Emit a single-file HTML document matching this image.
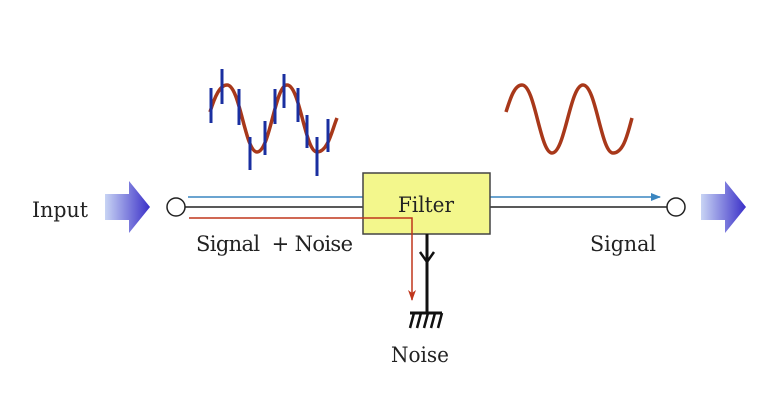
<!DOCTYPE html><html><head><style>body{margin:0;background:#fff}svg{display:block}</style></head><body>
<svg width="776" height="400" xmlns="http://www.w3.org/2000/svg">
<defs><linearGradient id="g" x1="0" x2="1"><stop offset="0" stop-color="#c8d4f4"/><stop offset="1" stop-color="#3a2fc8"/></linearGradient>
<marker id="ab" markerWidth="10" markerHeight="8" refX="9" refY="4" orient="auto" markerUnits="userSpaceOnUse"><path d="M0,0 L10,4 L0,8z" fill="#3a86c0"/></marker>
<marker id="ar" markerWidth="8" markerHeight="11" refX="4" refY="10" orient="0" markerUnits="userSpaceOnUse"><path d="M0,0 L4,11 L8,0 L4,3z" fill="#c0361c"/></marker></defs>
<path d="M105,194 h24 v-13 l21,26 l-21,26 v-13 h-24z" fill="url(#g)"/>
<path d="M701,194 h24 v-13 l21,26 l-21,26 v-13 h-24z" fill="url(#g)"/>
<line x1="188" y1="197" x2="363" y2="197" stroke="#3a86c0" stroke-width="1.5"/>
<line x1="490" y1="197" x2="660" y2="197" stroke="#3a86c0" stroke-width="1.5" marker-end="url(#ab)"/>
<line x1="185" y1="207" x2="667" y2="207" stroke="#222" stroke-width="1.5"/>
<circle cx="176" cy="207" r="9" fill="#fff" stroke="#222" stroke-width="1.5"/>
<circle cx="676" cy="207" r="9" fill="#fff" stroke="#222" stroke-width="1.5"/>
<rect x="363" y="173" width="127" height="61" fill="#f3f78c" stroke="#444" stroke-width="1.5"/>
<polyline points="189,218 412,218 412,300" fill="none" stroke="#c0361c" stroke-width="1.5" marker-end="url(#ar)"/>
<line x1="427" y1="234" x2="427" y2="313" stroke="#111" stroke-width="3"/>
<polyline points="420,252 427,262 434,252" fill="none" stroke="#111" stroke-width="2.5"/>
<line x1="410" y1="313" x2="442" y2="313" stroke="#111" stroke-width="3"/>
<g stroke="#111" stroke-width="2.5"><line x1="414" y1="313" x2="410" y2="328"/><line x1="421" y1="313" x2="417" y2="328"/><line x1="428" y1="313" x2="424" y2="328"/><line x1="435" y1="313" x2="431" y2="328"/><line x1="442" y1="313" x2="438" y2="328"/></g>
<g font-family="DejaVu Serif, serif" font-size="21" fill="#222">
<text x="32" y="217" textLength="56" lengthAdjust="spacingAndGlyphs">Input</text>
<text x="398" y="212" textLength="56" lengthAdjust="spacingAndGlyphs">Filter</text>
<text x="196" y="251" textLength="157" lengthAdjust="spacing" xml:space="preserve">Signal  + Noise</text>
<text x="590" y="251" textLength="66" lengthAdjust="spacingAndGlyphs">Signal</text>
<text x="391" y="362" textLength="58" lengthAdjust="spacingAndGlyphs">Noise</text></g>
<path d="M210,112 C215,96 220,85 227,85 C240,85 245,152 257,152 C270,152 275,85 287,85 C300,85 305,152 317,152 C328,152 332,130 337,118" fill="none" stroke="#a8381a" stroke-width="3.5"/>
<g stroke="#1a2fa0" stroke-width="3">
<line x1="211" y1="88" x2="211" y2="123"/><line x1="222" y1="69" x2="222" y2="104"/><line x1="239" y1="89" x2="239" y2="125"/><line x1="250" y1="137" x2="250" y2="170"/><line x1="265" y1="121" x2="265" y2="155"/><line x1="275" y1="89" x2="275" y2="124"/><line x1="284" y1="74" x2="284" y2="108"/><line x1="298" y1="88" x2="298" y2="122"/><line x1="307" y1="115" x2="307" y2="148"/><line x1="317" y1="137" x2="317" y2="176"/><line x1="328" y1="119" x2="328" y2="152"/></g>
<path d="M506,112 C511,96 515,85 522,85 C535,85 540,153 552,153 C565,153 570,85 583,85 C596,85 601,153 613,153 C624,153 628,132 632,118" fill="none" stroke="#a8381a" stroke-width="3.5"/>
</svg></body></html>
